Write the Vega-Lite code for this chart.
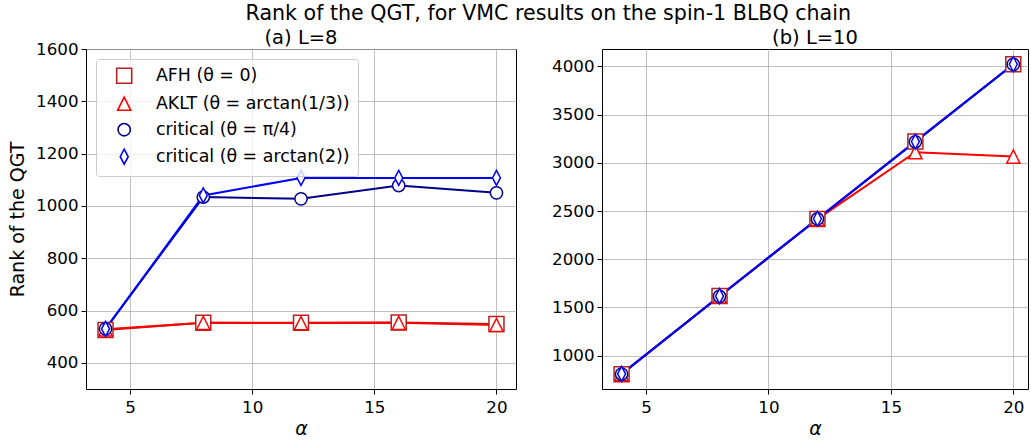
{
  "$schema": "https://vega.github.io/schema/vega-lite/v6.json",
  "padding": {"left": 8, "top": 4, "right": 0, "bottom": 0},
  "title": {
    "text": "Rank of the QGT, for VMC results on the spin-1 BLBQ chain",
    "fontSize": 20.6,
    "anchor": "middle",
    "dx": 30,
    "offset": 2
  },
  "data": {
    "values": [
      {"L": 8, "series": "AFH", "alpha": 4, "rank": 526},
      {"L": 8, "series": "AFH", "alpha": 8, "rank": 553},
      {"L": 8, "series": "AFH", "alpha": 12, "rank": 553},
      {"L": 8, "series": "AFH", "alpha": 16, "rank": 554},
      {"L": 8, "series": "AFH", "alpha": 20, "rank": 549},
      {"L": 8, "series": "AKLT", "alpha": 4, "rank": 528},
      {"L": 8, "series": "AKLT", "alpha": 8, "rank": 553},
      {"L": 8, "series": "AKLT", "alpha": 12, "rank": 552},
      {"L": 8, "series": "AKLT", "alpha": 16, "rank": 553},
      {"L": 8, "series": "AKLT", "alpha": 20, "rank": 545},
      {"L": 8, "series": "crit1", "alpha": 4, "rank": 530},
      {"L": 8, "series": "crit1", "alpha": 8, "rank": 1034},
      {"L": 8, "series": "crit1", "alpha": 12, "rank": 1027},
      {"L": 8, "series": "crit1", "alpha": 16, "rank": 1078},
      {"L": 8, "series": "crit1", "alpha": 20, "rank": 1050},
      {"L": 8, "series": "crit2", "alpha": 4, "rank": 530},
      {"L": 8, "series": "crit2", "alpha": 8, "rank": 1040},
      {"L": 8, "series": "crit2", "alpha": 12, "rank": 1107},
      {"L": 8, "series": "crit2", "alpha": 16, "rank": 1107},
      {"L": 8, "series": "crit2", "alpha": 20, "rank": 1107},
      {"L": 10, "series": "AFH", "alpha": 4, "rank": 808},
      {"L": 10, "series": "AFH", "alpha": 8, "rank": 1618},
      {"L": 10, "series": "AFH", "alpha": 12, "rank": 2418},
      {"L": 10, "series": "AFH", "alpha": 16, "rank": 3222},
      {"L": 10, "series": "AFH", "alpha": 20, "rank": 4022},
      {"L": 10, "series": "AKLT", "alpha": 4, "rank": 810},
      {"L": 10, "series": "AKLT", "alpha": 8, "rank": 1616},
      {"L": 10, "series": "AKLT", "alpha": 12, "rank": 2416},
      {"L": 10, "series": "AKLT", "alpha": 16, "rank": 3110},
      {"L": 10, "series": "AKLT", "alpha": 20, "rank": 3065},
      {"L": 10, "series": "crit1", "alpha": 4, "rank": 810},
      {"L": 10, "series": "crit1", "alpha": 8, "rank": 1616},
      {"L": 10, "series": "crit1", "alpha": 12, "rank": 2418},
      {"L": 10, "series": "crit1", "alpha": 16, "rank": 3218},
      {"L": 10, "series": "crit1", "alpha": 20, "rank": 4020},
      {"L": 10, "series": "crit2", "alpha": 4, "rank": 812},
      {"L": 10, "series": "crit2", "alpha": 8, "rank": 1617},
      {"L": 10, "series": "crit2", "alpha": 12, "rank": 2420},
      {"L": 10, "series": "crit2", "alpha": 16, "rank": 3220},
      {"L": 10, "series": "crit2", "alpha": 20, "rank": 4022}
    ]
  },
  "spacing": 86,
  "bounds": "flush",
  "resolve": {
    "scale": {"color": "independent", "shape": "independent"},
    "legend": {"color": "independent", "shape": "independent"}
  },
  "hconcat": [
    {
      "width": 430,
      "height": 340,
      "title": {"text": "(a) L=8", "dy": 8},
      "transform": [{"filter": "datum.L === 8"}],
      "encoding": {
        "x": {
          "field": "alpha", "type": "quantitative",
          "scale": {"domain": [3.2, 20.8], "nice": false, "zero": false},
          "axis": {"values": [5, 10, 15, 20], "title": "α"}
        },
        "y": {
          "field": "rank", "type": "quantitative",
          "scale": {"domain": [300, 1600], "nice": false, "zero": false},
          "axis": {"values": [400, 600, 800, 1000, 1200, 1400, 1600], "title": "Rank of the QGT"}
        },
        "color": {
          "field": "series", "type": "nominal",
          "scale": {"domain": ["AFH", "AKLT", "crit1", "crit2"], "range": ["#b22222", "#ff0000", "#00008b", "#0000ff"]},
          "legend": {
            "title": null,
            "orient": "top-left",
            "offset": 10,
            "labelFontSize": 17.4,
            "labelColor": "black",
            "labelLimit": 400,
            "labelOffset": 23,
            "symbolOffset": 11.5,
            "rowPadding": 6,
            "padding": 8,
            "symbolSize": 225,
            "symbolStrokeWidth": 1.6,
            "symbolFillColor": "white",
            "symbolOpacity": 1,
            "strokeColor": "#cccccc",
            "fillColor": "rgba(255,255,255,0.8)",
            "cornerRadius": 3,
            "labelExpr": "datum.value === 'AFH' ? 'AFH (θ = 0)' : datum.value === 'AKLT' ? 'AKLT (θ = arctan(1/3))' : datum.value === 'crit1' ? 'critical (θ = π/4)' : 'critical (θ = arctan(2))'"
          }
        }
      },
      "layer": [
        {"mark": {"type": "line", "strokeWidth": 2}},
        {
          "mark": {"type": "point", "filled": false, "fill": "white", "opacity": 1, "strokeWidth": 1.5, "size": 225},
          "encoding": {
            "shape": {
              "field": "series", "type": "nominal", "legend": null,
              "scale": {
                "domain": ["AFH", "AKLT", "crit1", "crit2"],
                "range": [
                  "M-1,-1H1V1H-1Z",
                  "M0,-0.88L0.88,0.88L-0.88,0.88Z",
                  "M-0.82,0A0.82,0.82,0,1,1,0.82,0A0.82,0.82,0,1,1,-0.82,0Z",
                  "M0,-1L0.53,0L0,1L-0.53,0Z"
                ]
              }
            }
          }
        }
      ]
    },
    {
      "width": 426,
      "height": 340,
      "title": "(b) L=10",
      "transform": [{"filter": "datum.L === 10"}],
      "encoding": {
        "x": {
          "field": "alpha", "type": "quantitative",
          "scale": {"domain": [3.2, 20.6], "nice": false, "zero": false},
          "axis": {"values": [5, 10, 15, 20], "title": "α"}
        },
        "y": {
          "field": "rank", "type": "quantitative",
          "scale": {"domain": [655, 4180], "nice": false, "zero": false},
          "axis": {"values": [1000, 1500, 2000, 2500, 3000, 3500, 4000], "title": null}
        },
        "color": {
          "field": "series", "type": "nominal", "legend": null,
          "scale": {"domain": ["AFH", "AKLT", "crit1", "crit2"], "range": ["#b22222", "#ff0000", "#00008b", "#0000ff"]}
        }
      },
      "layer": [
        {"mark": {"type": "line", "strokeWidth": 2}},
        {
          "mark": {"type": "point", "filled": false, "fill": "white", "opacity": 1, "strokeWidth": 1.5, "size": 225},
          "encoding": {
            "shape": {
              "field": "series", "type": "nominal", "legend": null,
              "scale": {
                "domain": ["AFH", "AKLT", "crit1", "crit2"],
                "range": [
                  "M-1,-1H1V1H-1Z",
                  "M0,-0.88L0.88,0.88L-0.88,0.88Z",
                  "M-0.82,0A0.82,0.82,0,1,1,0.82,0A0.82,0.82,0,1,1,-0.82,0Z",
                  "M0,-1L0.53,0L0,1L-0.53,0Z"
                ]
              }
            }
          }
        }
      ]
    }
  ],
  "config": {
    "font": "DejaVu Sans",
    "view": {"stroke": "black", "strokeWidth": 1},
    "axis": {
      "domain": false,
      "grid": true,
      "gridColor": "#b0b0b0",
      "gridWidth": 0.8,
      "tickColor": "black",
      "tickSize": 5,
      "format": "d",
      "labelFontSize": 16.7,
      "labelColor": "black",
      "labelPadding": 3,
      "titleFontSize": 19,
      "titleFontWeight": "normal",
      "titleColor": "black"
    },
    "axisX": {"titleFontStyle": "italic", "titlePadding": 4, "labelPadding": 5},
    "axisY": {"titlePadding": 8},
    "title": {"fontSize": 19.5, "fontWeight": "normal", "color": "black", "offset": 1}
  }
}
